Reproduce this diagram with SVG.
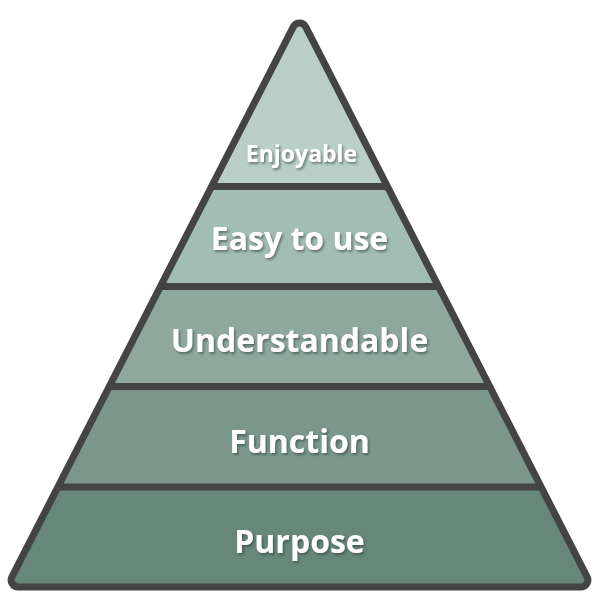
<svg xmlns="http://www.w3.org/2000/svg" width="600" height="600" viewBox="0 0 600 600">
  <defs>
    <filter id="sh" x="-10%" y="-30%" width="120%" height="160%">
      <feDropShadow dx="1.5" dy="2" stdDeviation="0.8" flood-color="#2e3a35" flood-opacity="0.55"/>
    </filter>
    <clipPath id="tri">
      <path d="M293.27,26.79 A7,7 0 0 1 305.73,26.79 L587.07,576.81 A7,7 0 0 1 580.84,587 L18.16,587 A7,7 0 0 1 11.93,576.81 Z"/>
    </clipPath>
  </defs>
  <style>
    .lbl { font-family: "Open Sans", "Noto Sans", "Liberation Sans", sans-serif; font-weight: bold; fill: #ffffff; text-anchor: middle; filter: url(#sh); }
    .sep { stroke: #444444; stroke-width: 7; fill: none; }
    .outline { stroke: #444444; stroke-width: 7; fill: none; stroke-linejoin: round; }
  </style>
  <rect width="600" height="600" fill="#ffffff"/>
  <g clip-path="url(#tri)">
    <g id="enjoyable">
      <rect x="0" y="0" width="600" height="186.5" fill="#b8cec7"/>
    </g>
    <g id="easy-to-use">
      <rect x="0" y="186.5" width="600" height="100" fill="#a2bdb3"/>
    </g>
    <g id="understandable">
      <rect x="0" y="286.5" width="600" height="100" fill="#8ea89e"/>
    </g>
    <g id="function">
      <rect x="0" y="386.5" width="600" height="100.5" fill="#7b978b"/>
    </g>
    <g id="purpose">
      <rect x="0" y="487" width="600" height="113" fill="#66877a"/>
    </g>
  </g>
  <g id="connectors">
    <line class="sep" x1="211.57" y1="186.5" x2="387.43" y2="186.5"/>
    <line class="sep" x1="160.42" y1="286.5" x2="438.58" y2="286.5"/>
    <line class="sep" x1="109.27" y1="386.5" x2="489.73" y2="386.5"/>
    <line class="sep" x1="57.87" y1="487" x2="541.13" y2="487"/>
    <path class="outline" d="M293.27,26.79 A7,7 0 0 1 305.73,26.79 L587.07,576.81 A7,7 0 0 1 580.84,587 L18.16,587 A7,7 0 0 1 11.93,576.81 Z"/>
  </g>
  <g id="labels">
    <text class="lbl" x="301.5" y="162" font-size="23">Enjoyable</text>
    <text class="lbl" x="299.5" y="250" font-size="32">Easy to use</text>
    <text class="lbl" x="299.5" y="352" font-size="32">Understandable</text>
    <text class="lbl" x="299.5" y="453" font-size="32">Function</text>
    <text class="lbl" x="299.5" y="553" font-size="32">Purpose</text>
  </g>
</svg>
